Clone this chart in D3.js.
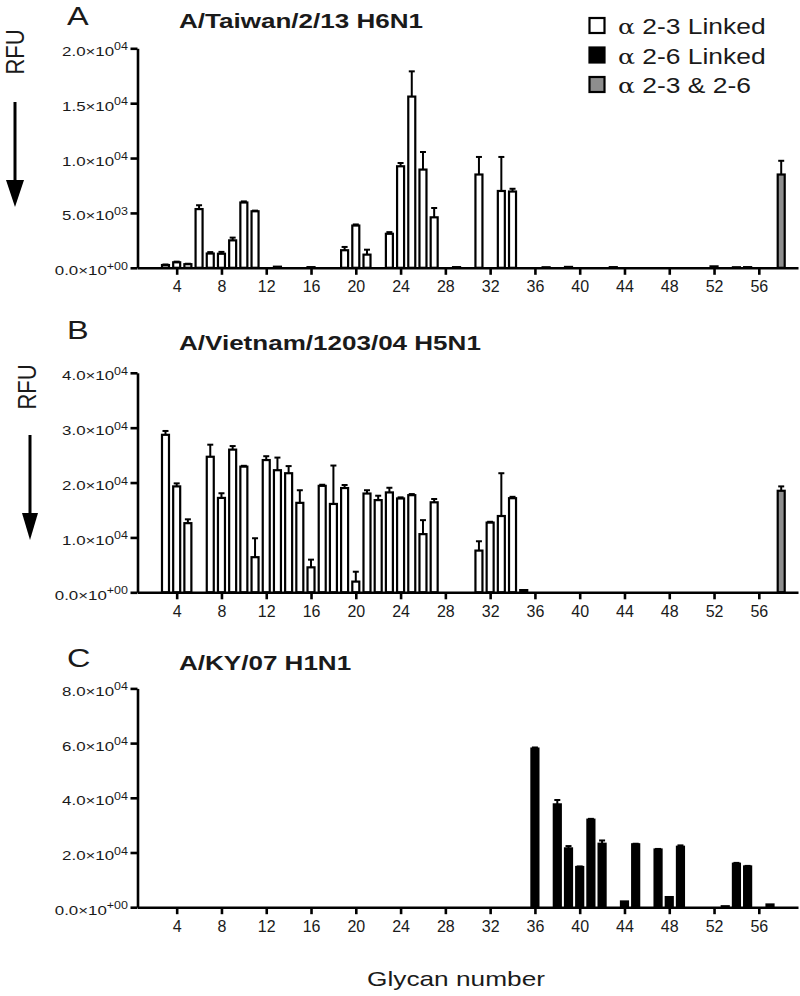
<!DOCTYPE html>
<html>
<head>
<meta charset="utf-8">
<script src="https://cdn.jsdelivr.net/npm/d3@7"></script>
<style>
  body { margin: 0; background: #fff; }
  svg text { font-family: "Liberation Sans", Arial, sans-serif; fill: #1a1a1a; }
</style>
</head>
<body>
<script>
// the canvas size
var width = 800
var height = 996

// glycan numbers 1..58 on the x axis
const glycans = [1,2,3,4,5,6,7,8,9,10,11,12,13,14,15,16,17,18,19,20,
  21,22,23,24,25,26,27,28,29,30,31,32,33,34,35,36,37,38,39,40,
  41,42,43,44,45,46,47,48,49,50,51,52,53,54,55,56,57,58]
const xTicks = [4,8,12,16,20,24,28,32,36,40,44,48,52,56]

// legend / linkage classes
const legendLabels = ["2-3 Linked", "2-6 Linked", "2-3 & 2-6"]
const legendFills = ["#ffffff", "#000000", "#8e8e8e"]
// linkage of a glycan -> index in legend (1-35 a2-3, 36-57 a2-6, 58 both)
const linkOf = g => g <= 35 ? 0 : (g <= 57 ? 1 : 2)

// A/Taiwan/2/13 H6N1 (RFU, mean and +error)
const taiwanValues = [0,0,250,500,330,5350,1300,1280,2500,5950,
  5150,0,100,0,0,60,0,0,1600,3850,
  1200,0,3100,9250,15600,8950,4600,0,60,0,
  8500,0,7000,6950,0,0,50,0,80,0,
  0,0,60,0,0,0,0,0,0,0,
  0,130,0,50,60,0,0,8500]
const taiwanErrors = [0,0,50,60,40,350,130,170,250,100,
  60,0,0,0,0,0,0,0,300,100,
  450,0,150,300,2300,1600,850,0,0,0,
  1600,0,3100,250,0,0,0,0,0,0,
  0,0,0,0,0,0,0,0,0,0,
  0,0,0,0,0,0,0,1250]
const taiwanTicks = [0, 5000, 10000, 15000, 20000]

// A/Vietnam/1203/04 H5N1
const vietnamValues = [0,0,28700,19300,12600,0,24700,17200,26000,22900,
  6400,24100,22250,21700,16300,4550,19400,16100,19000,1950,
  18000,16800,18200,17100,17700,10600,16400,0,0,0,
  7600,12700,13900,17150,400,0,0,0,0,0,
  0,0,0,0,0,0,0,0,0,0,
  0,0,0,0,0,0,0,18500]
const vietnamErrors = [0,0,700,550,700,0,2200,850,650,150,
  3450,700,2300,1300,2300,1400,200,7000,550,1800,
  600,800,850,200,200,2550,600,0,0,0,
  1700,150,7800,250,0,0,0,0,0,0,
  0,0,0,0,0,0,0,0,0,0,
  0,0,0,0,0,0,0,800]
const vietnamTicks = [0, 10000, 20000, 30000, 40000]

// A/KY/07 H1N1
const kyValues = [0,0,0,0,0,0,0,0,0,0,
  0,0,0,0,0,0,0,0,0,0,
  0,0,0,0,0,0,0,0,0,0,
  0,0,0,0,0,58000,0,37600,21500,14700,
  32000,23200,0,2100,23000,0,21100,3700,22100,0,
  0,0,350,15900,14900,0,1000,0]
const kyErrors = [0,0,0,0,0,0,0,0,0,0,
  0,0,0,0,0,0,0,0,0,0,
  0,0,0,0,0,0,0,0,0,0,
  0,0,0,0,0,400,0,1600,850,200,
  300,1200,0,0,200,0,200,0,500,0,
  0,0,0,300,200,0,0,0]
const kyTicks = [0, 20000, 40000, 60000, 80000]

// layout of the three panels
const panels = [
  {letter: "A", title: "A/Taiwan/2/13 H6N1", values: taiwanValues, errors: taiwanErrors, ticks: taiwanTicks,
   top: 48.3, zero: 267.8, letterY: 25, titleY: 28, rfu: {x: 24, y: 52, ax: 15, y0: 102, y1: 207, hw: 9}},
  {letter: "B", title: "A/Vietnam/1203/04 H5N1", values: vietnamValues, errors: vietnamErrors, ticks: vietnamTicks,
   top: 372.8, zero: 592.3, letterY: 339, titleY: 350, rfu: {x: 36, y: 387, ax: 30, y0: 435, y1: 540, hw: 8}},
  {letter: "C", title: "A/KY/07 H1N1", values: kyValues, errors: kyErrors, ticks: kyTicks,
   top: 688.4, zero: 907.2, letterY: 667, titleY: 670, rfu: null}
]

const svg = d3.select("body").append("svg")
  .attr("width", width)
  .attr("height", height)

// the picture is stretched sideways a bit, so text gets a horizontal scale
function stext(sel, x, y, sx, size, str) {
  return sel.append("text")
    .attr("transform", "translate(" + x + "," + y + ") scale(" + sx + ",1)")
    .attr("font-size", size + "px")
    .text(str)
}

var x = d3.scaleLinear().domain([0.5, 59.5]).range([137.5, 798])
var bw = 7

// "2.0x10^04" style labels like Prism
function sciParts(v) {
  var s = d3.format(".1e")(v).split("e")
  var e = +s[1]
  var ex = e === 0 ? "+00" : (e < 10 ? "0" + e : "" + e)
  return [s[0] + "\u00d710", ex]
}

panels.forEach(function(p) {
  var y = d3.scaleLinear().domain([0, p.ticks[p.ticks.length - 1]]).range([p.zero, p.top])
  var g = svg.append("g")

  // panel letter + title
  stext(g, 67, p.letterY, 1.3, 25, p.letter)
  stext(g, 179, p.titleY, 1.27, 20.5, p.title).attr("font-weight", "bold")

  // bars
  var data = glycans.map((gl, i) => ({g: gl, v: p.values[i], e: p.errors[i]})).filter(d => d.v > 0)

  // error bars (upper only)
  var eb = data.filter(d => d.e > 0)
  g.selectAll(".err").data(eb).enter().append("line")
    .attr("x1", d => x(d.g)).attr("x2", d => x(d.g))
    .attr("y1", d => y(d.v)).attr("y2", d => y(d.v + d.e))
    .attr("stroke", "#000").attr("stroke-width", 2)
  g.selectAll(".cap").data(eb).enter().append("line")
    .attr("x1", d => x(d.g) - 3).attr("x2", d => x(d.g) + 3)
    .attr("y1", d => y(d.v + d.e)).attr("y2", d => y(d.v + d.e))
    .attr("stroke", "#000").attr("stroke-width", 2)

  g.selectAll(".bar").data(data).enter().append("rect")
    .attr("x", d => x(d.g) - bw / 2)
    .attr("width", bw)
    .attr("y", d => y(d.v))
    .attr("height", d => y(0) - y(d.v))
    .style("fill", d => legendFills[linkOf(d.g)])
    .style("stroke", "#000")
    .style("stroke-width", 2.2)

  // y axis
  var ya = g.append("g").attr("transform", "translate(137.5,0)")
    .call(d3.axisLeft(y).tickValues(p.ticks).tickSize(7).tickSizeOuter(0).tickFormat(""))
  ya.selectAll("path, line").attr("stroke", "#000").attr("stroke-width", 2.6)
  p.ticks.forEach(function(t) {
    var parts = sciParts(t)
    var lab = g.append("text")
      .attr("transform", "translate(128," + (y(t) + 7.5) + ") scale(1.25,1)")
      .attr("text-anchor", "end")
      .attr("font-size", "13.5px")
    lab.append("tspan").text(parts[0])
    lab.append("tspan").attr("dy", -5.5).attr("font-size", "10px").text(parts[1])
  })

  // x axis
  var xa = g.append("g").attr("transform", "translate(0," + p.zero + ")")
    .call(d3.axisBottom(x).tickValues(xTicks).tickSize(7).tickSizeOuter(0).tickPadding(6))
  xa.selectAll("path, line").attr("stroke", "#000").attr("stroke-width", 2.6)
  xa.selectAll("text").attr("font-size", "16px").attr("font-family", "Liberation Sans, Arial, sans-serif").attr("fill", "#1a1a1a")

  // RFU label with downward arrow
  if (p.rfu) {
    var r = p.rfu
    g.append("text")
      .attr("transform", "translate(" + r.x + "," + r.y + ") scale(1.2,1) rotate(-90)")
      .attr("text-anchor", "middle")
      .attr("font-size", "22px")
      .text("RFU")
    g.append("line").attr("x1", r.ax).attr("x2", r.ax).attr("y1", r.y0).attr("y2", r.y1 - 20)
      .attr("stroke", "#000").attr("stroke-width", 3)
    g.append("path")
      .attr("d", "M" + (r.ax - r.hw) + "," + (r.y1 - 27) + "L" + (r.ax + r.hw) + "," + (r.y1 - 27) + "L" + r.ax + "," + r.y1 + "Z")
      .attr("fill", "#000")
  }
})

// legend
var leg = svg.append("g")
legendLabels.forEach(function(l, i) {
  var ly = 18 + i * 29.5
  leg.append("rect").attr("x", 589.5).attr("y", ly).attr("width", 15).attr("height", 15)
    .style("fill", legendFills[i]).style("stroke", "#000").style("stroke-width", 2.2)
  var t = stext(leg, 618, ly + 16, 1.2, 22, "")
  t.append("tspan").attr("font-family", "DejaVu Serif, serif").attr("font-size", "21px").text("\u03b1")
  t.append("tspan").text(" " + l)
})

// x axis title
stext(svg, 456, 986, 1.25, 21, "Glycan number").attr("text-anchor", "middle")
</script>
</body>
</html>
